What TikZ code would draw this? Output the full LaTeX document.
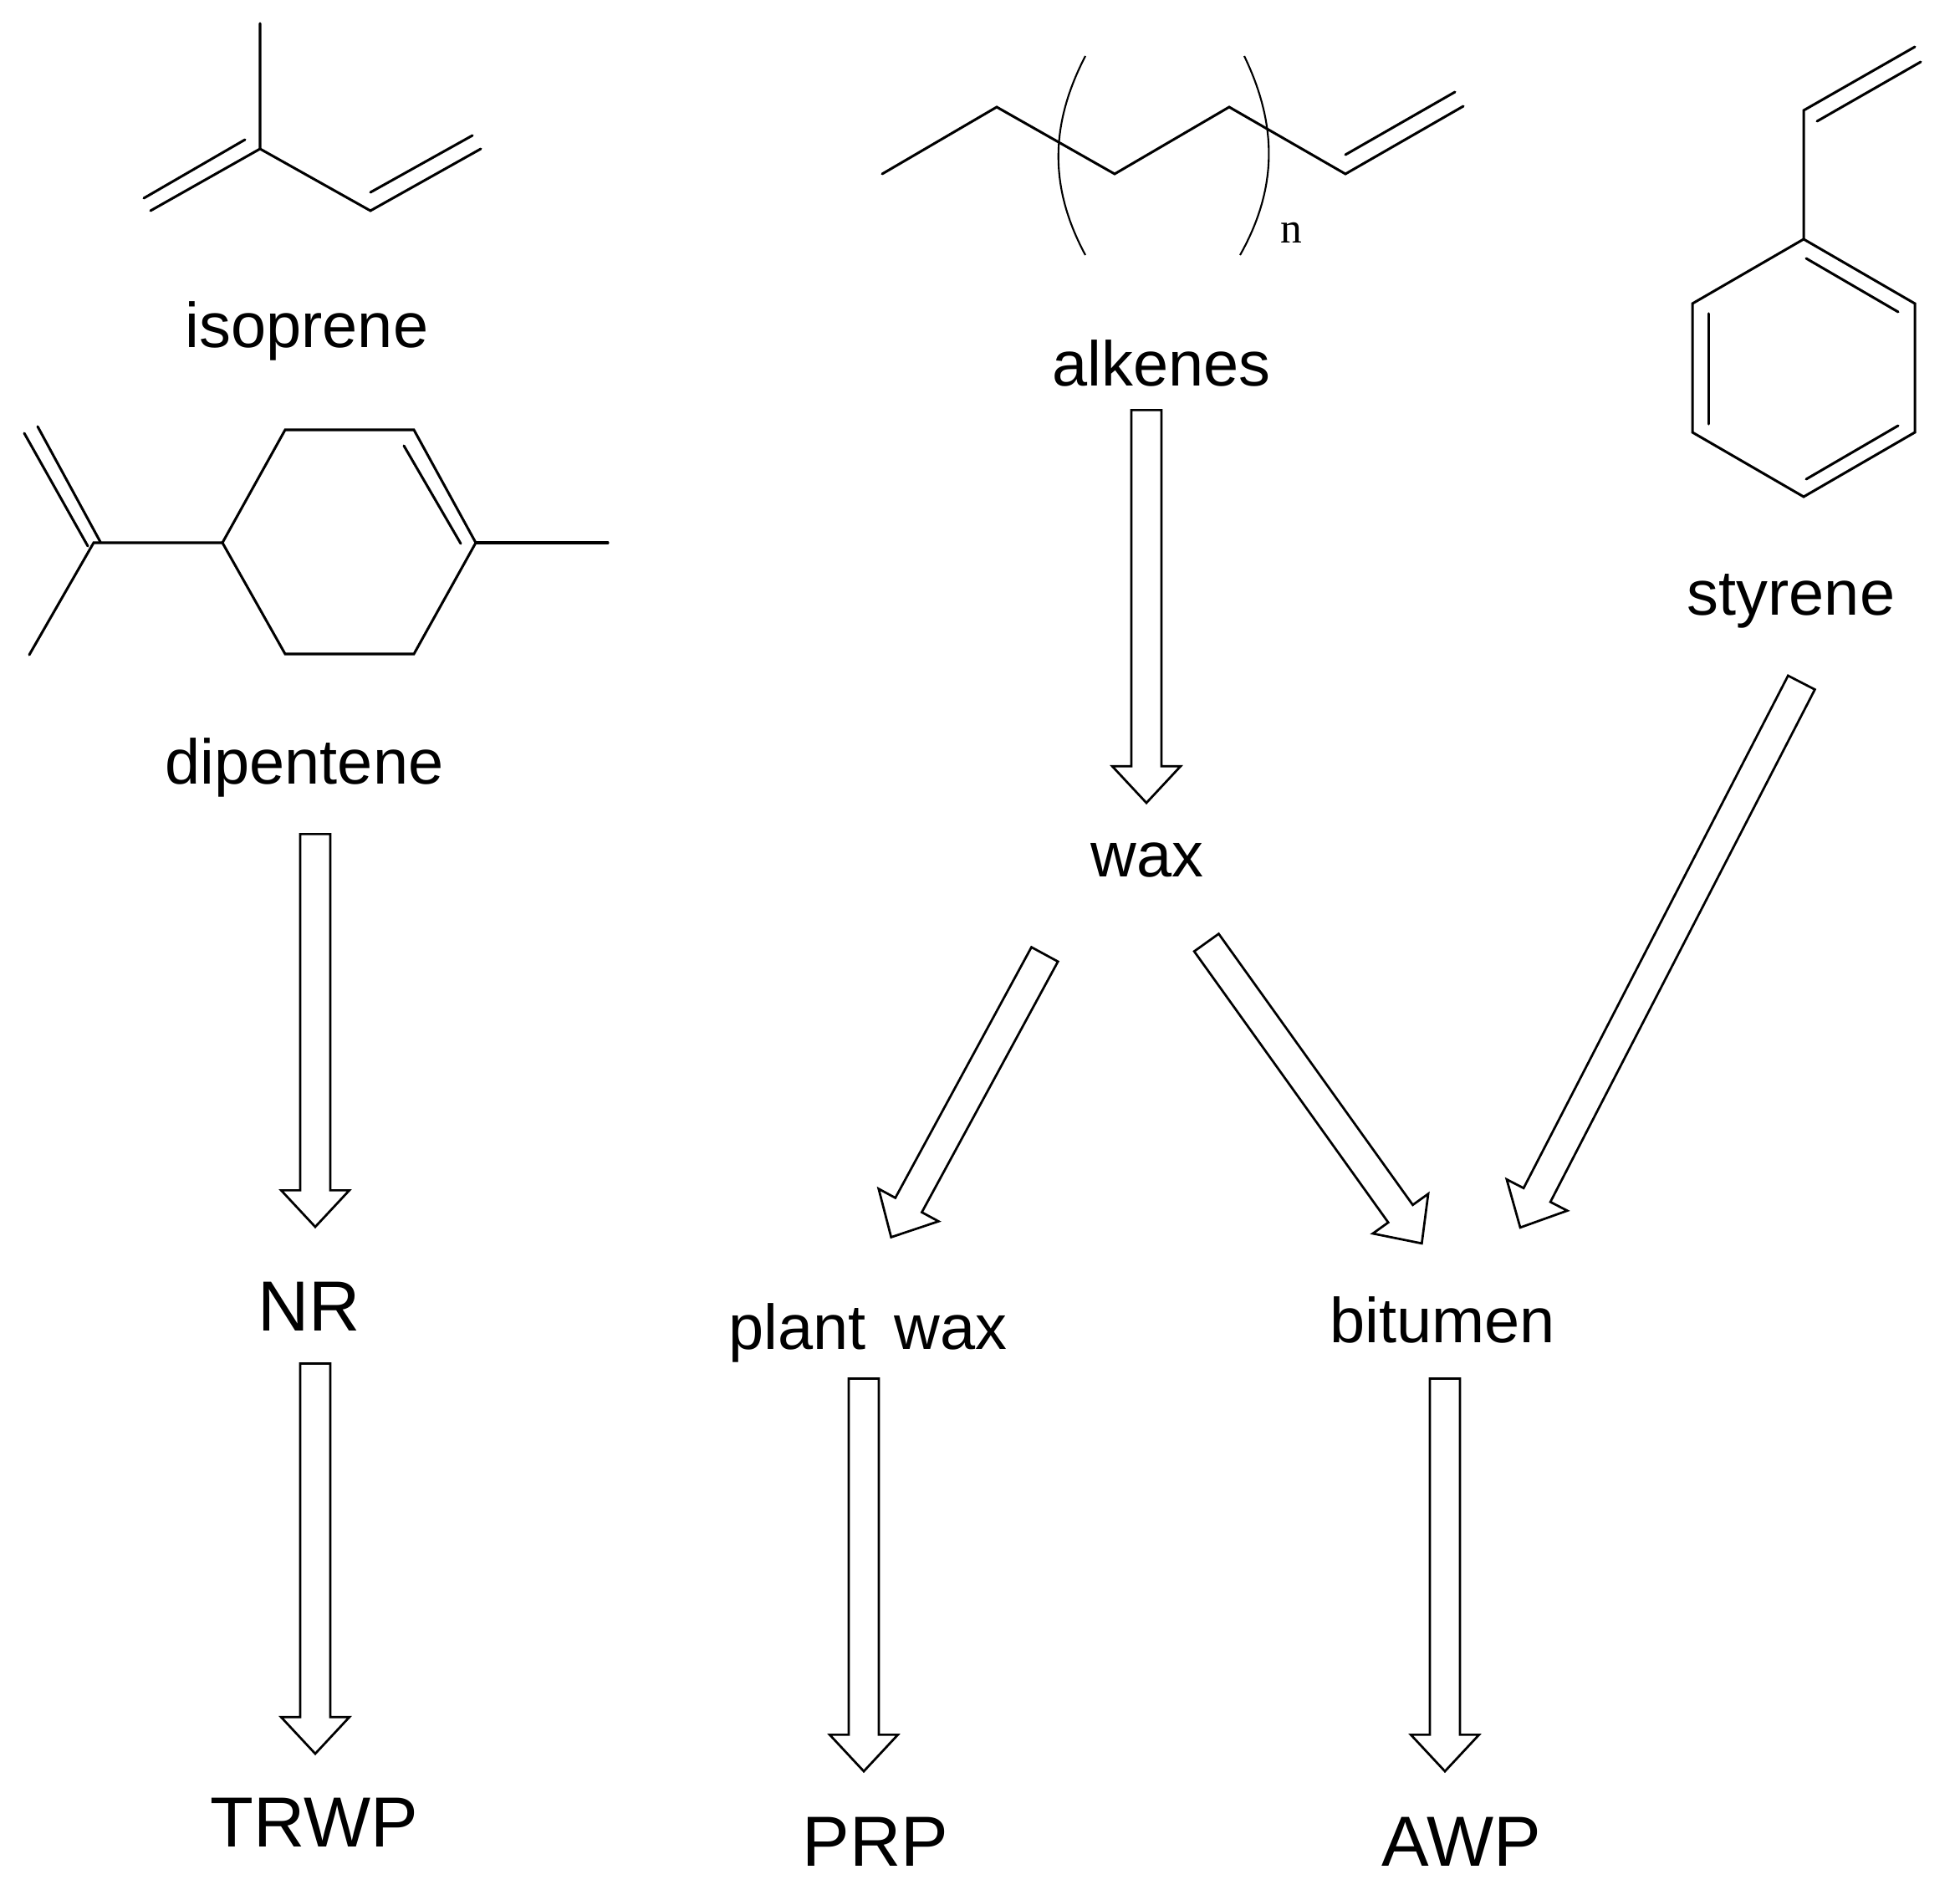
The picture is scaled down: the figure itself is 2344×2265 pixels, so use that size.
\documentclass[tikz,border=0pt]{standalone}
\usepackage{fontspec}
\setmainfont{Liberation Sans}
\newfontfamily\serifn{Liberation Serif}
\usetikzlibrary{shapes.arrows}
\begin{document}
\begin{tikzpicture}[x=0.33pt,y=-0.33pt,
  bond/.style={line width=1pt,line cap=round,line join=miter},
  lab/.style={font=\fontsize{25}{28}\selectfont,inner sep=0pt},
  ucl/.style={font=\fontsize{28}{31}\selectfont,inner sep=0pt},
  harr/.style={single arrow,draw,line width=0.9pt,anchor=tail,inner sep=0pt,
    minimum width=0pt,single arrow head extend=7.5pt,single arrow tip angle=86,
    text height=11pt,text depth=0pt,text width=0pt}]
\useasboundingbox (0,0) rectangle (2344,2265);
% isoprene
\draw[bond] (311,28) -- (311,178) -- (180,252);
\draw[bond] (172,237) -- (293,167);
\draw[bond] (311,178) -- (443,252) -- (575,178);
\draw[bond] (443,230) -- (565,162);
% dipentene
\draw[bond] (341,514) -- (495,514) -- (569,649) -- (495,782) -- (341,782) -- (266,649) -- cycle;
\draw[bond] (483,533) -- (551,650);
\draw[bond] (569,649) -- (727,649);
\draw[bond] (266,649) -- (112,649) -- (35,783);
\draw[bond] (105,653) -- (29,518);
\draw[bond] (120,648) -- (45,510);
% alkenes
\draw[bond] (1055,208) -- (1192,128) -- (1333,208) -- (1470,128) -- (1609,208) -- (1750,127);
\draw[bond] (1609,185) -- (1740,110);
\draw[line width=0.7pt] (1298,67) .. controls (1255,150) and (1255,225) .. (1298,305);
\draw[line width=0.7pt] (1488,67) .. controls (1528,150) and (1528,225) .. (1483,305);
\node[inner sep=0pt,font=\serifn\fontsize{17}{20}\selectfont] (n) at (1544,278) {n};
% styrene
\draw[bond] (2157,286) -- (2290,363) -- (2290,517) -- (2157,594) -- (2024,517) -- (2024,363) -- cycle;
\draw[bond] (2043,375) -- (2043,507);
\draw[bond] (2160,309) -- (2270,373);
\draw[bond] (2160,573) -- (2270,509);
\draw[bond] (2157,286) -- (2157,132) -- (2290,56);
\draw[bond] (2173,145) -- (2297,74);
% labels
\node[lab] (iso) at (367,396) {isoprene};
\node[lab] (dip) at (364,918) {dipentene};
\node[lab] (alk) at (1389,434) {alkenes};
\node[lab] (sty) at (2142,719) {styrene};
\node[lab] (wax) at (1372,1028) {wax};
\node[lab] (pw) at (1038,1594) {plant\, wax};
\node[lab] (bit) at (1725,1578) {bitumen};
\node[ucl] (nr) at (370,1562) {NR};
\node[ucl] (trwp) at (376,2179) {TRWP};
\node[ucl] (prp) at (1047,2202) {PRP};
\node[ucl] (awp) at (1748,2202) {AWP};
% arrows
\node[harr,rotate=-90,minimum height=155pt] (a1) at (1371,489) {};
\node[harr,rotate=-90,minimum height=155pt] (a2) at (377,996) {};
\node[harr,rotate=-90,minimum height=154pt] (a3) at (377,1629) {};
\node[harr,rotate=-90,minimum height=155pt] (a4) at (1033,1647) {};
\node[harr,rotate=-90,minimum height=155pt] (a5) at (1728,1647) {};
\node[harr,rotate=241.5,minimum height=127pt] (a6) at (1250,1140) {};
\node[harr,rotate=-54.4,minimum height=146pt] (a7) at (1442,1126) {};
\node[harr,rotate=242.7,minimum height=242pt] (a8) at (2155,815) {};
\end{tikzpicture}
\end{document}
